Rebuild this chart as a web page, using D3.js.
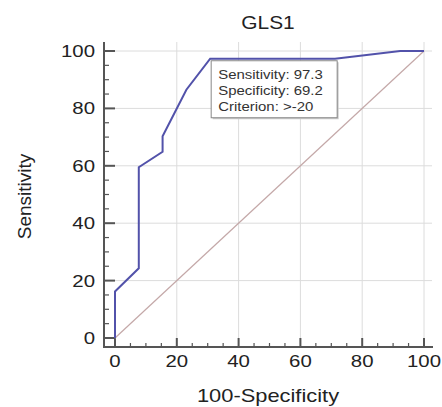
<!DOCTYPE html>
<html>
<head>
<meta charset="utf-8">
<script src="https://cdn.jsdelivr.net/npm/d3@7"></script>
<style>
  body { margin: 0; background: #fff; }
  text { font-family: "Liberation Sans", Arial, sans-serif; fill: #222; }
</style>
</head>
<body>
<div id="chart"></div>
<script>
// ROC curve points (100-Specificity, Sensitivity)
const fpr = [0, 0, 7.7, 7.7, 15.4, 15.4, 23.1, 30.8, 71.2, 92.3, 100];
const tpr = [0, 16.2, 24.3, 59.5, 64.9, 70.3, 86.5, 97.3, 97.3, 100, 100];
const tickValues = [0, 20, 40, 60, 80, 100];
const minorTicks = d3.range(0, 101, 5);
const noteLines = ["Sensitivity: 97.3", "Specificity: 69.2", "Criterion: >-20"];
const notePoint = [30.8, 97.3];

const width = 442, height = 407;
const svg = d3.select("#chart").append("svg")
    .attr("width", width)
    .attr("height", height);

const x = d3.scaleLinear().domain([0, 100]).range([115, 424]);
const y = d3.scaleLinear().domain([0, 100]).range([338, 51]);

const axisX = 104, axisY = 347; // axes sit offset from the plot area
const sx = 1.2; // text in the reference is a bit wide

function wideText(g, tx, ty, str, size, anchor, scale) {
    return g.append("g")
        .attr("transform", `translate(${tx},${ty}) scale(${scale},1)`)
        .append("text")
        .attr("font-size", size)
        .attr("text-anchor", anchor)
        .text(str);
}

// grid
const grid = svg.append("g").attr("stroke", "#dcdcdc").attr("stroke-width", 1);
tickValues.filter(v => v > 0).forEach(v => {
    grid.append("line").attr("x1", x(v)).attr("x2", x(v)).attr("y1", 42).attr("y2", axisY);
    grid.append("line").attr("x1", axisX).attr("x2", 432).attr("y1", y(v)).attr("y2", y(v));
});

// axes
const ax = svg.append("g").attr("stroke", "#555");
ax.append("line").attr("x1", axisX).attr("x2", axisX).attr("y1", 42).attr("y2", axisY + 1).attr("stroke-width", 2);
ax.append("line").attr("x1", axisX - 1).attr("x2", 433).attr("y1", axisY).attr("y2", axisY).attr("stroke-width", 2);
minorTicks.forEach(v => {
    const major = v % 20 === 0;
    ax.append("line")
        .attr("x1", axisX).attr("x2", axisX + (major ? 11 : 5))
        .attr("y1", y(v)).attr("y2", y(v))
        .attr("stroke-width", major ? 2 : 1.2);
    ax.append("line")
        .attr("x1", x(v)).attr("x2", x(v))
        .attr("y1", axisY).attr("y2", axisY - (major ? 9 : 4))
        .attr("stroke-width", major ? 2 : 1.2);
});

// tick labels
tickValues.forEach(v => {
    wideText(svg, 95, y(v) + 6, v, 17, "end", sx);
    wideText(svg, x(v), 367, v, 17, "middle", sx);
});

// diagonal reference line
svg.append("line")
    .attr("x1", x(0)).attr("y1", y(0))
    .attr("x2", x(100)).attr("y2", y(100))
    .attr("stroke", "#c4a8a8")
    .attr("stroke-width", 1.2);

// ROC curve
const line = d3.line().x(d => x(d[0])).y(d => y(d[1]));
svg.append("path")
    .datum(d3.zip(fpr, tpr))
    .attr("d", line)
    .attr("fill", "none")
    .attr("stroke", "#5252aa")
    .attr("stroke-width", 2);

// annotation box at the chosen criterion
const bx = x(notePoint[0]) + 1, by = y(notePoint[1]) + 2;
svg.append("rect")
    .attr("x", bx + 1.5).attr("y", by + 1.5)
    .attr("width", 126).attr("height", 57)
    .attr("fill", "#ccc");
svg.append("rect")
    .attr("x", bx).attr("y", by)
    .attr("width", 126).attr("height", 57)
    .attr("fill", "#fff")
    .attr("stroke", "#888")
    .attr("stroke-width", 1);
noteLines.forEach((t, i) => {
    wideText(svg, bx + 7, by + 18 + i * 16, t, 13, "start", 1.15).style("fill", "#333");
});

// titles
wideText(svg, 268, 29, "GLS1", 19, "middle", 1.1);
wideText(svg, 268, 402, "100-Specificity", 17.5, "middle", 1.25);
svg.append("text")
    .attr("transform", `translate(31,${y(50) + 2}) rotate(-90)`)
    .attr("font-size", 19)
    .attr("text-anchor", "middle")
    .text("Sensitivity");
</script>
</body>
</html>
